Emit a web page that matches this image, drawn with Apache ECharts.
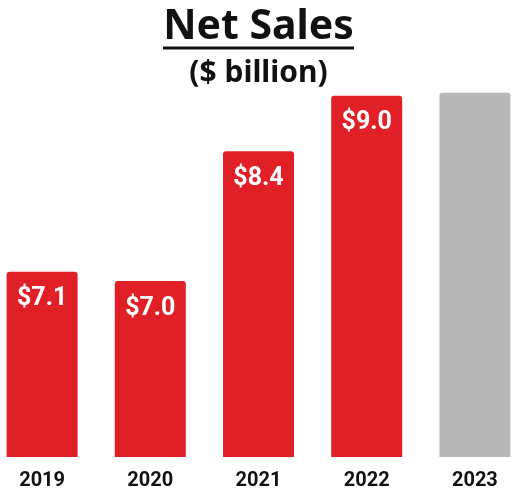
<!DOCTYPE html>
<html><head><meta charset="utf-8">
<script src="https://cdn.jsdelivr.net/npm/echarts@6/dist/echarts.min.js"></script>
<style>html,body{margin:0;padding:0;background:#fff;overflow:hidden;}#c{width:541px;height:492px;margin-left:-12px;}</style>
</head><body><div id="c"></div>
<script>
const categories = ['2019', '2020', '2021', '2022', '2023'];
const values = [7.1, 7.0, 8.4, 9.0, 9.03];
const labels = ['$7.1', '$7.0', '$8.4', '$9.0', ''];
const barColors = ['#e01f26', '#e01f26', '#e01f26', '#e01f26', '#b7b7b7'];
const titleText = 'Net Sales';
const subtitleText = '($ billion)';

const chart = echarts.init(document.getElementById('c'));
chart.setOption({
  animation: false,
  backgroundColor: '#fff',
  title: [
    { text: titleText, left: 'center', top: 2,
      textStyle: { fontFamily: 'Noto Sans', fontWeight: 'bold', fontSize: 41, color: '#111' } },
    { text: subtitleText, left: 'center', top: 53,
      textStyle: { fontFamily: 'Noto Sans', fontWeight: 'bold', fontSize: 30, color: '#111' } }
  ],
  graphic: [
    { type: 'line', shape: { x1: 175, y1: 48, x2: 366, y2: 48 }, style: { stroke: '#111', lineWidth: 3 } }
  ],
  grid: { left: 0, right: 0, top: 3, bottom: 35 },
  xAxis: {
    type: 'category', data: categories,
    axisLine: { show: false }, axisTick: { show: false },
    axisLabel: { margin: 14, color: '#111', fontFamily: 'Roboto', fontWeight: 'bold', fontSize: 20 }
  },
  yAxis: { type: 'value', min: 5.1, max: 10, show: false, splitLine: { show: false } },
  series: [{
    type: 'bar', barWidth: 71,
    data: values.map((v, i) => ({ value: v, itemStyle: { color: barColors[i] },
      label: { formatter: labels[i] } })),
    itemStyle: { borderRadius: [3, 3, 0, 0] },
    label: { show: true, position: 'insideTop', distance: 15, color: '#fff',
      fontFamily: 'Roboto', fontWeight: 'bold', fontSize: 25 }
  }]
});
</script></body></html>
